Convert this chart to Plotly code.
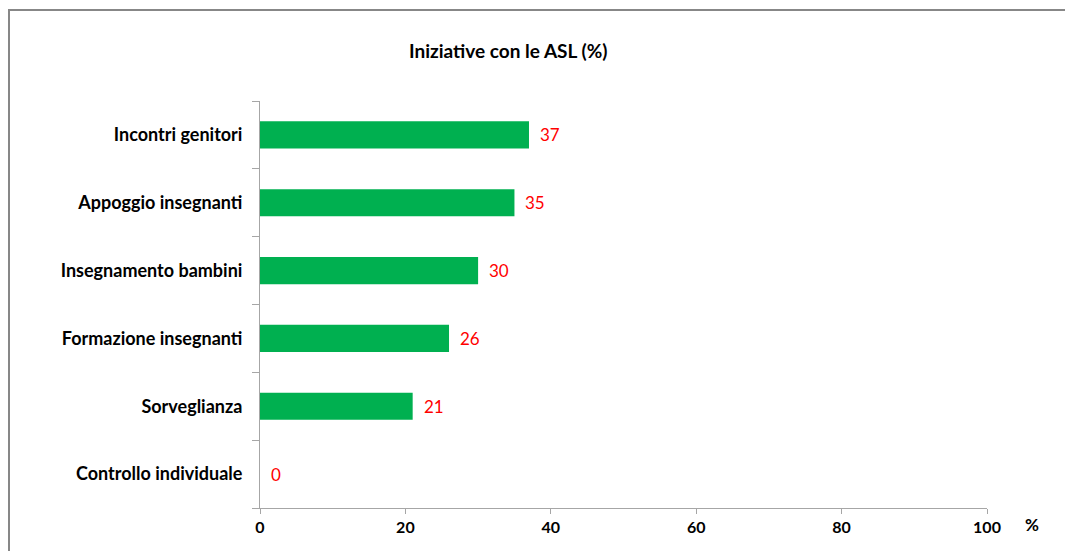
import plotly.graph_objects as go

# Categories (top to bottom) and percentage values
categories = [
    "Incontri genitori",
    "Appoggio insegnanti",
    "Insegnamento bambini",
    "Formazione insegnanti",
    "Sorveglianza",
    "Controllo individuale",
]
values = [37, 35, 30, 26, 21, 0]
x_ticks = [0, 20, 40, 60, 80, 100]

W, H = 1065, 551
L, R, T, B = 260, 78, 101, 43
plot_w = W - L - R
plot_h = H - T - B

FONT = "Lato"
BAR_COLOR = "#00B050"
AXIS_COLOR = "#A6A6A6"


def px_x(p):
    return (p - L) / plot_w


def px_y(p):
    return (T + plot_h - p) / plot_h


fig = go.Figure()
fig.add_trace(go.Bar(
    x=values,
    y=categories,
    orientation="h",
    marker=dict(color=BAR_COLOR, line=dict(width=0)),
    width=0.4,
    hoverinfo="x+y",
))

# Value labels in red just past each bar end
annotations = []
for cat, v in zip(categories, values):
    annotations.append(dict(
        x=v, y=cat, xref="x", yref="y",
        text=str(v), showarrow=False,
        xanchor="left", yanchor="middle", xshift=9,
        font=dict(family=FONT, size=17, color="#FF0000"),
    ))

# Title and unit label
annotations.append(dict(
    x=px_x(508), y=px_y(51), xref="paper", yref="paper",
    text="<b>Iniziative con le ASL (%)</b>", showarrow=False,
    xanchor="center", yanchor="middle",
    font=dict(family=FONT, size=19, color="#000000"),
))
annotations.append(dict(
    x=px_x(1032), y=px_y(524), xref="paper", yref="paper",
    text="<b>%</b>", showarrow=False,
    xanchor="center", yanchor="middle",
    font=dict(family=FONT, size=17, color="#000000"),
))

# Outer chart border (right and bottom edges fall outside the canvas)
shapes = [dict(
    type="rect", xref="paper", yref="paper",
    x0=px_x(9), x1=px_x(1080), y0=px_y(570), y1=px_y(10),
    line=dict(color="#878787", width=2), fillcolor="rgba(0,0,0,0)",
    layer="below",
)]

fig.update_layout(
    width=W, height=H,
    margin=dict(l=L, r=R, t=T, b=B, pad=0),
    paper_bgcolor="white", plot_bgcolor="white",
    showlegend=False,
    bargap=0.6,
    annotations=annotations,
    shapes=shapes,
    xaxis=dict(
        range=[0, 100], tickvals=x_ticks,
        ticktext=[f"<b>{t}</b>" for t in x_ticks],
        showgrid=False, zeroline=False,
        showline=True, linecolor=AXIS_COLOR, linewidth=1,
        ticks="outside", ticklen=5, tickcolor=AXIS_COLOR, tickwidth=1,
        tickfont=dict(family=FONT, size=16, color="#000000"),
        fixedrange=True,
    ),
    yaxis=dict(
        type="category",
        categoryorder="array", categoryarray=categories,
        autorange="reversed",
        tickvals=categories,
        ticktext=[f"<b>{c}</b>" for c in categories],
        tickson="boundaries",
        showgrid=False, zeroline=False,
        showline=True, linecolor=AXIS_COLOR, linewidth=1,
        ticks="outside", ticklen=7, tickcolor=AXIS_COLOR, tickwidth=1,
        ticklabelstandoff=13,
        tickfont=dict(family=FONT, size=18, color="#000000"),
        fixedrange=True,
    ),
)

fig.write_html("out.html")
